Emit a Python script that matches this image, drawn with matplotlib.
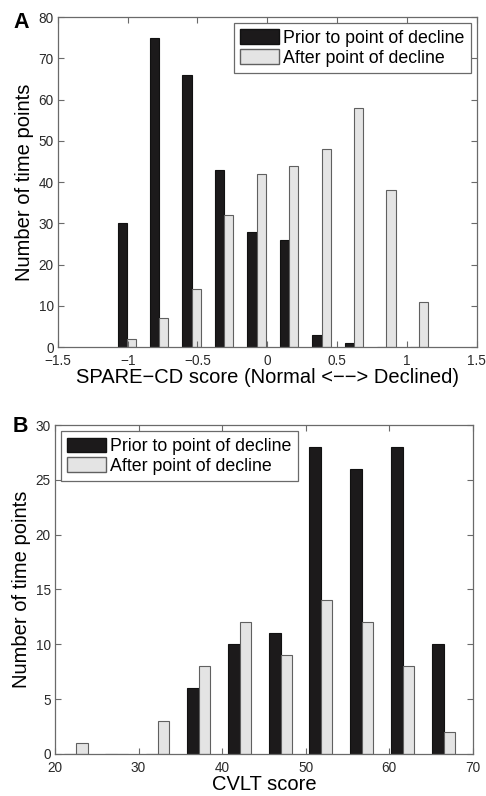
import numpy as np
import matplotlib.pyplot as plt
from matplotlib.patches import Patch

plt.rcParams['font.family'] = ['Liberation Sans', 'DejaVu Sans']

# Panel A: SPARE-CD score histogram (bin centers and counts)
spare_centers = [-1.006, -0.774, -0.541, -0.309, -0.076, 0.156, 0.389, 0.621, 0.853, 1.086]
spare_prior = [30, 75, 66, 43, 28, 26, 3, 1, 0, 0]
spare_after = [2, 7, 14, 32, 42, 44, 48, 58, 38, 11]

# Panel B: CVLT score histogram
cvlt_centers = [22.5, 27.4, 32.3, 37.2, 42.1, 47.0, 51.8, 56.7, 61.6, 66.5]
cvlt_prior = [0, 0, 0, 6, 10, 11, 28, 26, 28, 10]
cvlt_after = [1, 0, 3, 8, 12, 9, 14, 12, 8, 2]

labels = ['Prior to point of decline', 'After point of decline']
dark = '#1c1a1b'
light = '#e4e4e4'
edge_light = '#606060'
axis_col = '#6a6a6a'
tick_col = '#2a2a2a'


def grouped_hist(ax, centers, prior, after):
    centers = np.asarray(centers)
    step = centers[1] - centers[0]
    w = step * 0.286
    ax.bar(centers - w / 2, prior, width=w, color=dark, edgecolor='#111111', linewidth=0.8)
    ax.bar(centers + w / 2, after, width=w, color=light, edgecolor=edge_light, linewidth=0.8)
    for s in ax.spines.values():
        s.set_color(axis_col)
        s.set_linewidth(0.9)
    ax.tick_params(direction='in', top=True, right=True, length=4, width=0.8,
                   color=axis_col, labelcolor=tick_col, labelsize=9.8)
    ax.tick_params(axis='x', pad=5.2)
    ax.tick_params(axis='y', pad=3)


def add_legend(ax, loc, anchor):
    handles = [Patch(facecolor=dark, edgecolor='#111111'),
               Patch(facecolor=light, edgecolor=edge_light)]
    leg = ax.legend(handles, labels, loc=loc, bbox_to_anchor=anchor, fontsize=12.8,
                    handlelength=2.15, handleheight=0.9, handletextpad=0.25,
                    labelspacing=0.12, borderpad=0.35, borderaxespad=0.35,
                    fancybox=False, framealpha=1)
    leg.get_frame().set_edgecolor(axis_col)
    leg.get_frame().set_linewidth(0.9)


fig = plt.figure(figsize=(4.86, 7.96), dpi=100)

ax1 = fig.add_axes([0.119, 0.564, 0.862, 0.4146])
grouped_hist(ax1, spare_centers, spare_prior, spare_after)
ax1.set_xlim(-1.5, 1.5)
ax1.set_ylim(0, 80)
ax1.set_xticks([-1.5, -1, -0.5, 0, 0.5, 1, 1.5])
ax1.set_xticklabels(['\u22121.5', '\u22121', '\u22120.5', '0', '0.5', '1', '1.5'])
ax1.set_yticks(range(0, 81, 10))
ax1.set_xlabel('SPARE\u2212CD score (Normal <\u2212\u2212> Declined)', fontsize=14.5, labelpad=0)
ax1.set_ylabel('Number of time points', fontsize=14.5, labelpad=3)
add_legend(ax1, 'upper right', (1.0, 1.0))
fig.text(0.027, 0.965, 'A', fontsize=15.5, fontweight='bold')

ax2 = fig.add_axes([0.113, 0.053, 0.86, 0.413])
grouped_hist(ax2, cvlt_centers, cvlt_prior, cvlt_after)
ax2.set_xlim(20, 70)
ax2.set_ylim(0, 30)
ax2.set_xticks(range(20, 71, 10))
ax2.set_yticks(range(0, 31, 5))
ax2.set_xlabel('CVLT score', fontsize=14.5, labelpad=0)
ax2.set_ylabel('Number of time points', fontsize=14.5, labelpad=3)
add_legend(ax2, 'upper left', (0.0, 1.0))
fig.text(0.027, 0.457, 'B', fontsize=15.5, fontweight='bold')

fig.savefig('out.png', dpi=100)
